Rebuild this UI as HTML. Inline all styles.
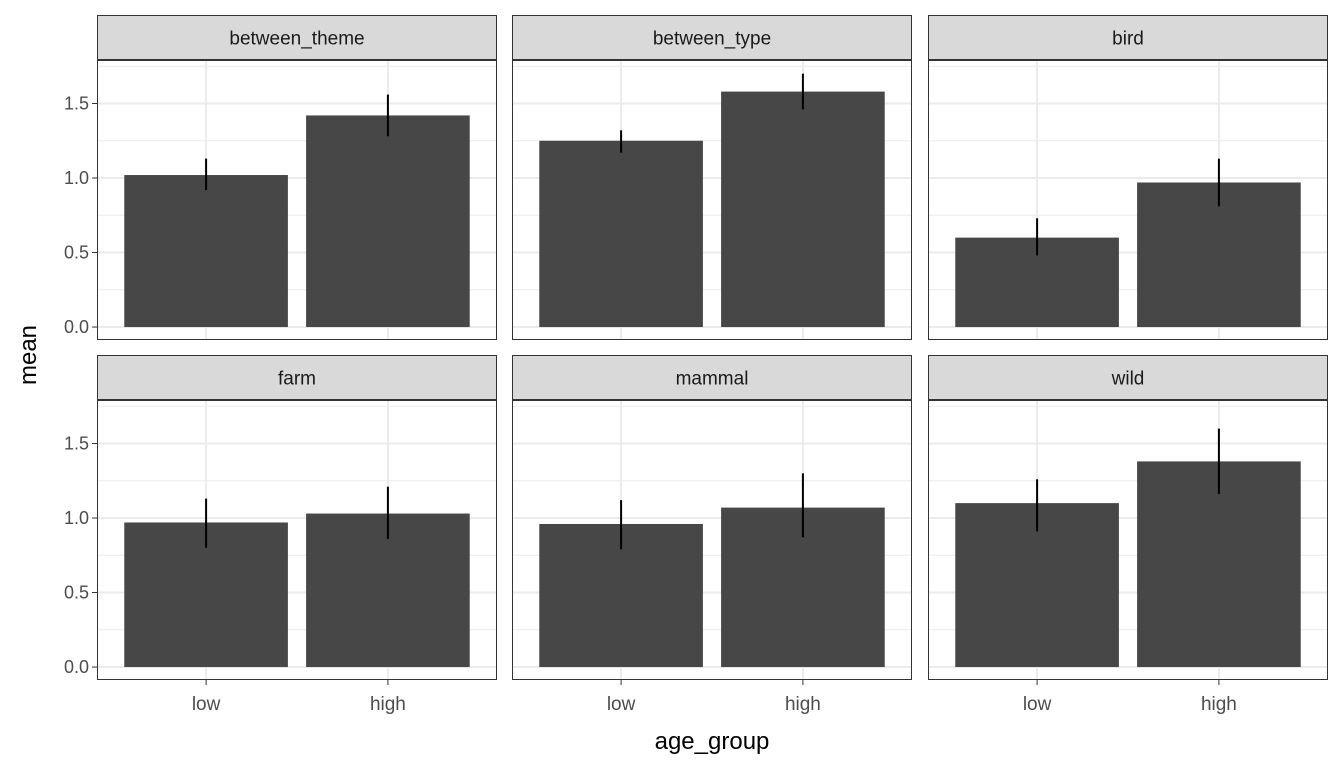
<!DOCTYPE html>
<html><head><meta charset="utf-8"><style>
body{margin:0;background:#fff;font-family:"Liberation Sans",Arial,sans-serif}
</style></head><body>
<svg id="chart" width="1344" height="768" xmlns="http://www.w3.org/2000/svg"></svg>
<script>
const facets=["between_theme","between_type","bird","farm","mammal","wild"];
const categories=["low","high"];
const meanValues=[[1.02,1.42],[1.25,1.58],[0.60,0.97],[0.97,1.03],[0.96,1.07],[1.10,1.38]];
const errLow=[[0.92,1.28],[1.17,1.46],[0.48,0.81],[0.80,0.86],[0.79,0.87],[0.91,1.16]];
const errHigh=[[1.13,1.56],[1.32,1.70],[1.13,1.13],[1.13,1.21],[1.12,1.30],[1.26,1.60]];
errHigh[2][0]=0.73;
const yTicks=[0,0.5,1.0,1.5];
const yTickLabels=["0.0","0.5","1.0","1.5"];

const NS="http://www.w3.org/2000/svg";
const svg=document.getElementById("chart");
function mk(t,a,p){const e=document.createElementNS(NS,t);for(const k in a)e.setAttribute(k,a[k]);(p||svg).appendChild(e);return e;}
const colX=[97,512,928], PW=400;
const rowTop=[60,400], PH=280, stripH=45;
const yMin=-0.087, yMax=1.792;
function yScale(v,r){return rowTop[r]+PH-(v-yMin)/(yMax-yMin)*PH;}
function xScale(i,c){return colX[c]+(i+0.6)*PW/2.2;}
const bw=0.9*PW/2.2;

facets.forEach((f,idx)=>{
  const c=idx%3,r=Math.floor(idx/3);
  const g=mk("g",{});
  
  
  const x0=colX[c],y0=rowTop[r];
  mk("rect",{x:x0,y:y0,width:PW,height:PH,fill:"#fff"},g);
  // minor grid
  for(let k=0;k<yTicks.length-1;k++){const v=(yTicks[k]+yTicks[k+1])/2;const y=yScale(v,r);
    mk("line",{x1:x0,x2:x0+PW,y1:y,y2:y,stroke:"#ebebeb","stroke-width":1},g);}
  {const y=yScale(1.75,r);mk("line",{x1:x0,x2:x0+PW,y1:y,y2:y,stroke:"#ebebeb","stroke-width":1},g);}
  yTicks.forEach(v=>{const y=yScale(v,r);mk("line",{x1:x0,x2:x0+PW,y1:y,y2:y,stroke:"#ebebeb","stroke-width":2},g);});
  categories.forEach((cat,i)=>{const x=xScale(i,c);mk("line",{x1:x,x2:x,y1:y0,y2:y0+PH,stroke:"#ebebeb","stroke-width":2},g);});
  categories.forEach((cat,i)=>{
    const x=xScale(i,c);
    const b=mk("rect",{x:x-bw/2,y:yScale(meanValues[idx][i],r),width:bw,height:yScale(0,r)-yScale(meanValues[idx][i],r),fill:"#474747"},g);
    
    
    const e=mk("line",{x1:x,x2:x,y1:yScale(errLow[idx][i],r),y2:yScale(errHigh[idx][i],r),stroke:"#000","stroke-width":2},g);
    
    
  });
  mk("rect",{x:x0+0.5,y:y0+0.5,width:PW-1,height:PH-1,fill:"none",stroke:"#333","stroke-width":1},g);
  const s=mk("rect",{x:x0+0.5,y:y0-stripH+0.5,width:PW-1,height:stripH-1,fill:"#d9d9d9",stroke:"#333","stroke-width":1},g);
  
  
  const st=mk("text",{x:x0+PW/2,y:y0-stripH/2+7,"text-anchor":"middle","font-size":"19",fill:"#1a1a1a"},g);
  st.textContent=f;
  
  
  if(c===0){yTicks.forEach((v,k)=>{const y=yScale(v,r);
    mk("line",{x1:x0-5,x2:x0,y1:y,y2:y,stroke:"#333","stroke-width":1},g);
    const t=mk("text",{x:x0-8,y:y+6,"text-anchor":"end","font-size":"18",fill:"#4d4d4d"},g);t.textContent=yTickLabels[k];
    
    });}
  if(r===1){categories.forEach((cat,i)=>{const x=xScale(i,c);
    mk("line",{x1:x,x2:x,y1:y0+PH,y2:y0+PH+5,stroke:"#333","stroke-width":1},g);
    const t=mk("text",{x:x,y:y0+PH+30,"text-anchor":"middle","font-size":"19",fill:"#4d4d4d"},g);t.textContent=cat;
    
    });}
});
const xt=mk("text",{x:712,y:749,"text-anchor":"middle","font-size":"24",fill:"#000"});xt.textContent="age_group";


const yt=mk("text",{x:0,y:0,"text-anchor":"middle","font-size":"24",fill:"#000",transform:"translate(36,355) rotate(-90)"});yt.textContent="mean";


</script>
</body></html>
